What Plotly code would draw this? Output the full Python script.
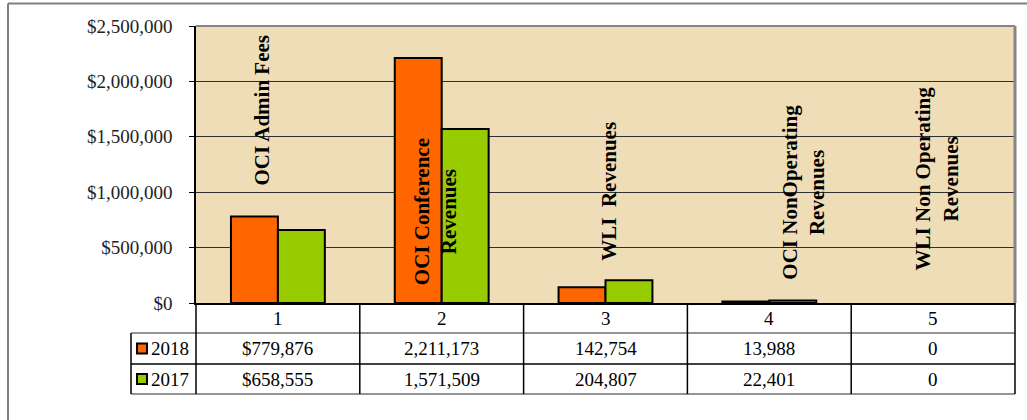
import plotly.graph_objects as go

# ---------------- data ----------------
categories = [1, 2, 3, 4, 5]
series_names = ["2018", "2017"]
values_2018 = [779876, 2211173, 142754, 13988, 0]
values_2017 = [658555, 1571509, 204807, 22401, 0]
bar_labels = ["OCI Admin Fees", "OCI Conference<br>Revenues", "WLI\u00a0 Revenues",
              "OCI NonOperating<br>Revenues", "WLI Non Operating<br>Revenues"]
y_ticks = [0, 500000, 1000000, 1500000, 2000000, 2500000]

# ---------------- style / layout ----------------
W, H = 1027, 420
PL, PR, PT, PB = 196, 1015, 26, 303          # plot area in pixels
PW, PH = PR - PL, PB - PT
FONT = "Times New Roman, Liberation Serif, serif"
ORANGE, GREEN = "#FF6600", "#99CC00"
BG = "#EEDDB6"

def xp(px):
    return (px - PL) / PW

def yp(py):
    return (PB - py) / PH

# label placement (offset in category units, y in data units)
label_dx = [-0.10, -0.04, 0.02, 0.21, 0.02]
label_y = [1742000, 821000, 1011000, 1002000, 1128000]

fig = go.Figure()
for name, vals, col in [(series_names[0], values_2018, ORANGE),
                        (series_names[1], values_2017, GREEN)]:
    fig.add_trace(go.Bar(x=categories, y=vals, name=name,
                         marker=dict(color=col,
                                     line=dict(color="black",
                                               width=[2 if v else 0 for v in vals]))))

shapes = []
annotations = []

# rotated category labels
for c, lab, dx, ly in zip(categories, bar_labels, label_dx, label_y):
    annotations.append(dict(x=c + dx, y=ly, xref="x", yref="y", text="<b>" + lab + "</b>",
                            textangle=-90, showarrow=False, align="center",
                            xanchor="center", yanchor="middle",
                            font=dict(family=FONT, size=21, color="black")))

# data table
row_top, row1, row2, row3 = 303, 333, 364, 394
left_col = 131
ncat = len(categories)
for py, col in [(row1, "#707070"), (row2, "black"), (row3, "#707070")]:
    shapes.append(dict(type="line", xref="paper", yref="paper", x0=xp(left_col), x1=1,
                       y0=yp(py), y1=yp(py), line=dict(color=col, width=1.5)))
shapes.append(dict(type="line", xref="paper", yref="paper", x0=xp(left_col), x1=xp(left_col),
                   y0=yp(row1), y1=yp(row3), line=dict(color="black", width=1.5)))
for i in range(ncat + 1):
    x = i / ncat
    shapes.append(dict(type="line", xref="paper", yref="paper", x0=x, x1=x,
                       y0=yp(row_top), y1=yp(row3), line=dict(color="black", width=1.5)))

cell_font = dict(family=FONT, size=19, color="black")
for i, c in enumerate(categories):
    cx = (i + 0.5) / ncat
    annotations.append(dict(x=cx, y=yp((row_top + row1) / 2), xref="paper", yref="paper",
                            text=str(c), showarrow=False, xanchor="center", yanchor="middle",
                            font=cell_font))
    for vals, (ra, rb) in [(values_2018, (row1, row2)), (values_2017, (row2, row3))]:
        v = vals[i]
        txt = (f"${v:,}" if i == 0 else f"{v:,}")
        annotations.append(dict(x=cx, y=yp((ra + rb) / 2), xref="paper", yref="paper",
                                text=txt, showarrow=False, xanchor="center", yanchor="middle",
                                font=cell_font))

# legend keys in table
for name, col, (ra, rb) in [(series_names[0], ORANGE, (row1, row2)),
                            (series_names[1], GREEN, (row2, row3))]:
    cy = (ra + rb) / 2
    shapes.append(dict(type="rect", xref="paper", yref="paper", x0=xp(137), x1=xp(147),
                       y0=yp(cy - 5), y1=yp(cy + 5), fillcolor=col,
                       line=dict(color="black", width=2)))
    annotations.append(dict(x=xp(149), y=yp(cy), xref="paper", yref="paper", text=name,
                            xanchor="left", yanchor="middle", showarrow=False,
                            font=cell_font))

# plot area top/right borders
shapes.append(dict(type="line", xref="paper", yref="paper", x0=0, x1=1, y0=1, y1=1,
                   line=dict(color="#858585", width=2)))
shapes.append(dict(type="line", xref="paper", yref="paper", x0=1, x1=1, y0=0, y1=1,
                   line=dict(color="#858585", width=3)))

# outer frame
shapes.append(dict(type="line", xref="paper", yref="paper", x0=xp(8), x1=xp(1040),
                   y0=yp(3.5), y1=yp(3.5), line=dict(color="#808080", width=2)))
shapes.append(dict(type="line", xref="paper", yref="paper", x0=xp(8), x1=xp(8),
                   y0=yp(3.5), y1=yp(430), line=dict(color="#808080", width=2)))

fig.update_layout(
    width=W, height=H,
    margin=dict(l=PL, r=W - PR, t=PT, b=H - PB, pad=0),
    paper_bgcolor="white", plot_bgcolor=BG,
    barmode="group", bargap=0.427, bargroupgap=0,
    showlegend=False,
    shapes=shapes, annotations=annotations,
    font=dict(family=FONT, size=19, color="black"),
)
fig.update_xaxes(range=[0.5, 5.5], showticklabels=False, showgrid=False, zeroline=False,
                 showline=True, linecolor="black", linewidth=2, ticks="")
fig.update_yaxes(range=[0, 2500000], tickvals=y_ticks, tickformat="$,.0f",
                 showgrid=True, gridcolor="#303030", gridwidth=1, zeroline=False,
                 showline=True, linecolor="black", linewidth=1.5,
                 ticks="outside", ticklen=5, tickcolor="black", ticklabelstandoff=13,
                 tickfont=dict(family=FONT, size=19, color="#222"))

fig.write_html("out.html",
               config={"displayModeBar": False},
               post_script="document.body.style.margin='0';"
                           "document.documentElement.style.overflow='hidden';")
